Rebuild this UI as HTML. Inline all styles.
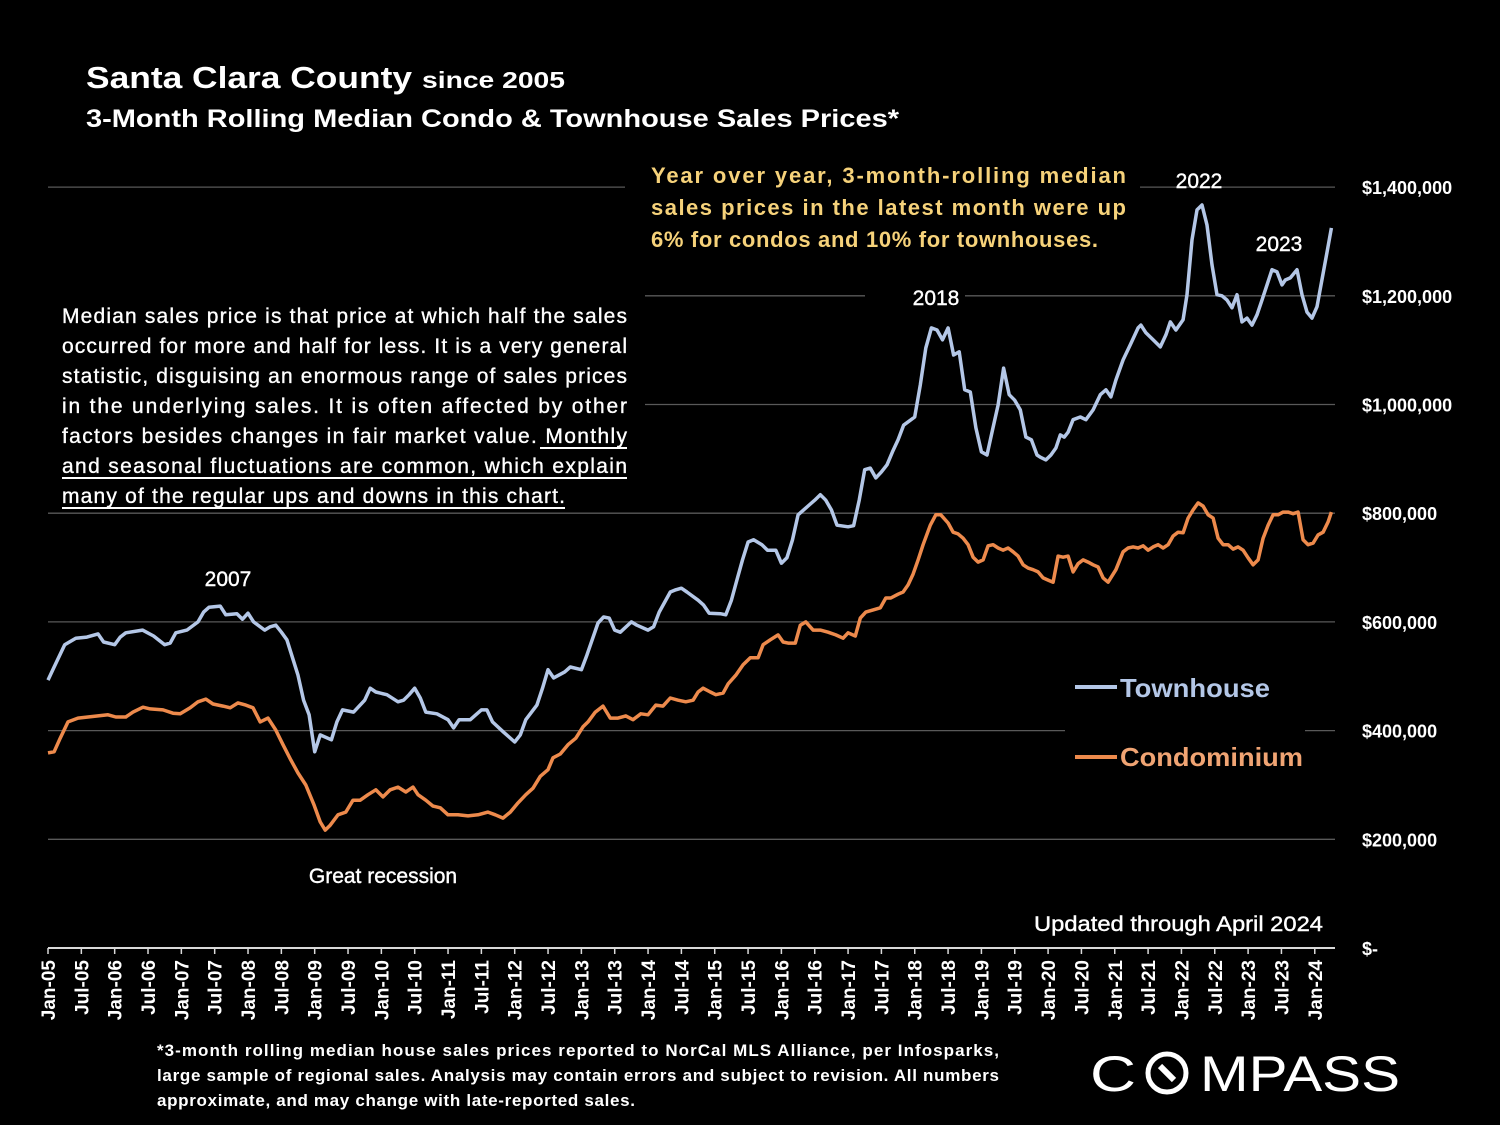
<!DOCTYPE html>
<html><head><meta charset="utf-8"><style>
html,body{margin:0;padding:0;background:#000;}
svg{display:block;font-family:"Liberation Sans",sans-serif;}
</style></head><body>
<svg id="chart" width="1500" height="1125" viewBox="0 0 1500 1125">
<rect width="1500" height="1125" fill="#000"/>
<g>
<text x="86" y="88" fill="#fff" font-weight="bold" font-size="31" textLength="326" lengthAdjust="spacingAndGlyphs">Santa Clara County</text>
<text x="422" y="88" fill="#fff" font-weight="bold" font-size="23" textLength="143" lengthAdjust="spacingAndGlyphs">since 2005</text>
</g>
<text x="86" y="127" fill="#fff" font-weight="bold" font-size="25" textLength="813" lengthAdjust="spacingAndGlyphs">3-Month Rolling Median Condo &amp; Townhouse Sales Prices*</text>
<g id="grid"></g>
<g id="axes"></g>
<g id="series"></g>
<g fill="#fff" font-size="21" stroke="#fff" stroke-width="0.35">
<text x="62" y="323" textLength="565" lengthAdjust="spacing">Median sales price is that price at which half the sales</text>
<text x="62" y="353" textLength="565" lengthAdjust="spacing">occurred for more and half for less. It is a very general</text>
<text x="62" y="383" textLength="565" lengthAdjust="spacing">statistic, disguising an enormous range of sales prices</text>
<text x="62" y="413" textLength="565" lengthAdjust="spacing">in the underlying sales. It is often affected by other</text>
<text x="62" y="443" textLength="565" lengthAdjust="spacing">factors besides changes in fair market value. Monthly</text>
<text x="62" y="473" textLength="565" lengthAdjust="spacing">and seasonal fluctuations are common, which explain</text>
<text x="62" y="503" textLength="503" lengthAdjust="spacing">many of the regular ups and downs in this chart.</text>
<line x1="540" y1="448" x2="627" y2="448" stroke-width="2"/>
<line x1="62" y1="478" x2="627" y2="478" stroke-width="2"/>
<line x1="62" y1="508" x2="565" y2="508" stroke-width="2"/>
</g>
<g fill="#f6d27a" font-size="22" font-weight="bold">
<text x="651" y="183" textLength="475" lengthAdjust="spacing">Year over year, 3-month-rolling median</text>
<text x="651" y="215" textLength="475" lengthAdjust="spacing">sales prices in the latest month were up</text>
<text x="651" y="247" textLength="447" lengthAdjust="spacing">6% for condos and 10% for townhouses.</text>
</g>
<g fill="#fff" font-size="21" stroke="#fff" stroke-width="0.4" text-anchor="middle">
<text x="228" y="586">2007</text>
<text x="936" y="305">2018</text>
<text x="1199" y="188">2022</text>
<text x="1279" y="251">2023</text>
<text x="383" y="883">Great recession</text>
<text x="1323" y="931" text-anchor="end" textLength="289" lengthAdjust="spacingAndGlyphs">Updated through April 2024</text>
</g>
<g>
<g>
<line x1="1075" y1="687" x2="1117" y2="687" stroke="#b4c7e7" stroke-width="4"/>
<text x="1120" y="697" fill="#b4c7e7" font-size="26" font-weight="bold" textLength="150" lengthAdjust="spacingAndGlyphs">Townhouse</text>
</g>
<g>
<line x1="1075" y1="757" x2="1117" y2="757" stroke="#ed8a4c" stroke-width="4"/>
<text x="1120" y="766" fill="#f0a473" font-size="26" font-weight="bold" textLength="183" lengthAdjust="spacingAndGlyphs">Condominium</text>
</g>
</g>
<g fill="#fff" font-size="17" font-weight="bold">
<text x="157" y="1056" textLength="842" lengthAdjust="spacing">*3-month rolling median house sales prices reported to NorCal MLS Alliance, per Infosparks,</text>
<text x="157" y="1081" textLength="842" lengthAdjust="spacing">large sample of regional sales. Analysis may contain errors and subject to revision. All numbers</text>
<text x="157" y="1106" textLength="478" lengthAdjust="spacing">approximate, and may change with late-reported sales.</text>
</g>
<g>
<text x="1090" y="1091" fill="#fff" font-size="50" textLength="46" lengthAdjust="spacingAndGlyphs">C</text>
<circle cx="1167" cy="1073" r="19" fill="none" stroke="#fff" stroke-width="5"/>
<line x1="1160" y1="1066" x2="1174" y2="1080" stroke="#fff" stroke-width="6"/>
<text x="1200" y="1091" fill="#fff" font-size="50" textLength="200" lengthAdjust="spacingAndGlyphs">MPASS</text>
</g>
</svg>
<script>
const yTicks = [0, 200000, 400000, 600000, 800000, 1000000, 1200000, 1400000];
const yTickLabels = ["$-", "$200,000", "$400,000", "$600,000", "$800,000", "$1,000,000", "$1,200,000", "$1,400,000"];
const xTickMonths = [0,6,12,18,24,30,36,42,48,54,60,66,72,78,84,90,96,102,108,114,120,126,132,138,144,150,156,162,168,174,180,186,192,198,204,210,216,222,228];
const xTickLabels = ["Jan-05","Jul-05","Jan-06","Jul-06","Jan-07","Jul-07","Jan-08","Jul-08","Jan-09","Jul-09","Jan-10","Jul-10","Jan-11","Jul-11","Jan-12","Jul-12","Jan-13","Jul-13","Jan-14","Jul-14","Jan-15","Jul-15","Jan-16","Jul-16","Jan-17","Jul-17","Jan-18","Jul-18","Jan-19","Jul-19","Jan-20","Jul-20","Jan-21","Jul-21","Jan-22","Jul-22","Jan-23","Jul-23","Jan-24"];
// months since Jan-2005, values in $K
const townMonths = [0,1,3,5,7,9,10,12,13,14,17,19,21,22,23,25,27,28,29,31,32,34,35,36,37,39,40,41,42,43,45,46,47,48,49,51,52,53,55,57,58,59,61,63,64,65,66,67,68,70,72,73,74,76,77,78,79,80,82,84,85,86,88,89,90,91,93,94,96,97,99,100,101,102,103,105,106,108,109,110,112,113,114,115,117,118,119,121,122,123,124,125,126,127,128.5,129.5,131,132,133,134,135,137,138,139,140,141,142,144,145,146,147,148,149,150,151,152,153,154,156,157,158,159,160,161,162,163,164,165,166,167,168,169,170,171,172,173,174,175,176,177,178,178.6,179.6,180.5,181.4,182.2,182.9,183.6,184.5,185.8,186.8,188.1,189.4,190.4,191.3,192.2,193.5,194.8,196.2,196.7,197.6,198.9,200.2,201.2,202,203,204.3,205,205.9,206.8,207.7,208.6,209.5,210.4,211.3,212.2,213.1,214,214.9,215.8,216.7,217.6,218.5,219.4,220.3,221.2,222.1,222.7,223.6,224.8,225.7,226.6,227.5,228.4,229.3,230.2,231];
const townValues = [493,515,558,570,572,578,563,558,572,580,585,574,558,561,580,585,600,618,627,629,613,615,605,616,600,585,591,594,581,567,502,456,429,361,392,383,416,438,434,456,478,471,466,453,456,466,478,460,434,431,420,405,420,420,429,438,438,416,397,379,392,420,447,478,512,497,508,517,512,539,598,609,607,585,581,600,594,585,591,618,655,659,662,655,640,631,616,615,613,640,677,714,747,751,742,732,732,708,718,751,797,815,824,834,824,806,778,775,777,824,880,883,865,876,889,913,935,962,977,1036,1104,1141,1137,1119,1141,1091,1097,1027,1023,957,913,907,953,999,1067,1018,1008,990,940,935,907,903,898,907,920,944,940,949,972,977,972,990,1018,1027,1014,1045,1082,1110,1141,1146,1132,1119,1106,1128,1152,1137,1156,1202,1303,1358,1367,1330,1257,1202,1200,1192,1178,1202,1152,1159,1146,1165,1192,1220,1248,1244,1220,1229,1233,1248,1202,1170,1159,1180,1230,1280,1325];
const condoMonths = [0,1.1,2.2,3.6,5.4,7.2,9,10.8,12.2,14,15.3,17.1,18.4,20.7,22.5,23.8,25.6,27,28.4,29.7,31.5,32.8,34.2,35.6,36.9,38.2,39.6,41,42.3,43.7,45,46.4,47.9,49,49.9,50.8,52.2,53.6,54.9,56.2,57.6,59,60.3,61.6,63,64.4,65.7,66.6,68,69.3,70.6,72,73.8,75.6,77.4,79.2,80.5,81.9,83.2,84.6,86,87.3,88.6,90,90.9,92.2,93.6,95,96.3,97.2,98.5,99.9,101.2,102.6,104,105.3,106.7,108,109.4,110.7,112,113.4,114.8,116.1,117,117.9,119.2,120.2,121.5,122.4,123.8,125.1,126.4,127.8,128.7,130,131.4,132.3,133.2,134.5,135.4,136.4,137.7,139,140.4,141.8,143.1,144,145.3,146.2,147.2,148.5,149.8,150.8,151.7,153,153.9,154.8,155.7,156.6,157.5,158.8,159.8,160.7,162,162.9,163.8,164.7,165.6,166.5,167.4,168.3,169.2,170.1,171,171.9,172.8,173.7,174.6,175.5,176.4,177.3,178.2,179.1,180,180.9,181.8,182.7,183.6,184.5,185.4,186.3,187.2,188.1,189,189.9,190.8,192.2,193.5,194.4,195.3,196.2,197.1,198,198.9,199.8,200.7,201.6,202.5,203.4,204.3,205.2,206.1,207,207.9,208.8,209.7,210.6,211.5,212.4,213.3,214.2,215.1,216,216.9,217.8,218.7,219.6,220.5,221.4,222.3,223.2,224.1,225,225.9,226.8,227.7,228.6,229.5,230.4,231];
const condoValues = [359,361,386,416,423,425,427,429,425,425,434,443,440,438,432,431,442,453,458,449,445,442,451,447,442,416,423,401,374,346,322,300,263,232,217,226,245,250,272,272,282,291,278,291,296,287,296,282,272,261,258,245,245,243,245,250,245,239,250,267,282,294,316,328,350,357,374,386,407,416,434,445,423,423,427,420,431,429,447,445,460,456,453,456,471,478,471,466,469,486,502,521,534,534,558,567,576,563,561,561,594,600,585,585,581,576,570,580,574,607,618,622,626,644,644,651,655,668,688,714,742,778,797,797,782,765,762,754,742,719,710,714,740,742,736,732,736,729,721,705,699,696,692,681,677,673,721,719,721,692,707,714,710,705,701,681,673,696,729,736,738,736,740,732,738,742,736,742,758,765,764,791,806,819,813,797,791,754,742,742,734,738,732,718,705,714,754,778,797,797,802,802,799,802,751,742,745,760,765,784,802];

const NS = "http://www.w3.org/2000/svg";
const X0 = 48, PXM = 5.556, Y0 = 948, PXV = 108.7 / 200000;
function xs(m){ return X0 + m * PXM; }
function ys(v){ return Y0 - v * PXV; }
function mk(tag, attrs, parent){ const e = document.createElementNS(NS, tag); for (const k in attrs) e.setAttribute(k, attrs[k]); parent.appendChild(e); return e; }

const grid = document.getElementById('grid');
const gridSegs = {1:[[48,1335]],2:[[48,1065],[1305,1335]],3:[[48,1335]],4:[[48,1335]],5:[[645,1335]],6:[[645,865],[965,1335]],7:[[48,625],[1140,1335]]};
yTicks.forEach((t, i) => {
  (gridSegs[i] || []).forEach(s => {
    const l = mk('line', {x1:s[0], x2:s[1], y1:ys(t), y2:ys(t), stroke:'#595959', 'stroke-width':1.3}, grid);
    
    
  });
  const tx = mk('text', {x:1362, y:ys(t)+7, fill:'#fff', 'font-size':18, 'font-weight':'bold'}, grid);
  tx.textContent = yTickLabels[i];
  
  
});

const axes = document.getElementById('axes');
const ax = mk('line', {x1:48, x2:1335, y1:Y0, y2:Y0, stroke:'#d9d9d9', 'stroke-width':2}, axes);


xTickMonths.forEach((m, i) => {
  const x = xs(m);
  const tk = mk('line', {x1:x, x2:x, y1:Y0, y2:Y0+6, stroke:'#d9d9d9', 'stroke-width':1.5}, axes);
  
  
  const t = mk('text', {x:0, y:0, fill:'#fff', 'font-size':19, 'font-weight':'bold', 'text-anchor':'end', transform:`translate(${x+7},960) rotate(-90)`}, axes);
  t.textContent = xTickLabels[i];
  
  
});

const series = document.getElementById('series');
function drawLine(months, vals, color, name){
  const d = months.map((m, i) => (i ? 'L' : 'M') + xs(m).toFixed(1) + ',' + ys(vals[i]*1000).toFixed(1)).join('');
  const p = mk('path', {d:d, fill:'none', stroke:color, 'stroke-width':3.5, 'stroke-linejoin':'round'}, series);
  
  
}
drawLine(condoMonths, condoValues, '#ed8a4c', 'condominium-line');
drawLine(townMonths, townValues, '#b4c7e7', 'townhouse-line');
</script>
</body></html>
